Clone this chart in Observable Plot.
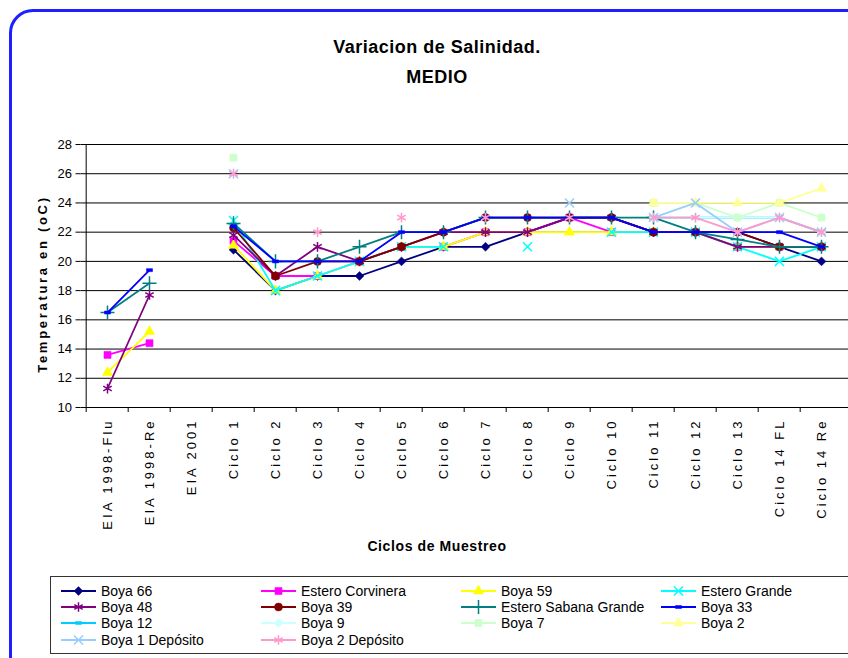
<!DOCTYPE html>
<html>
<head>
<meta charset="utf-8">
<script src="https://cdn.jsdelivr.net/npm/d3@7"></script>
<script src="https://cdn.jsdelivr.net/npm/@observablehq/plot@0.6"></script>
<style>
  body { margin: 0; background: #fff; font-family: "Liberation Sans", Arial, sans-serif; }
  #wrap { position: relative; width: 848px; height: 658px; overflow: hidden; background: #fff; }
  #frame { position: absolute; left: 9px; top: 9px; width: 880px; height: 720px; border: 3px solid #1f1fff; border-radius: 24px; box-sizing: border-box; }
  #title { position: absolute; left: 0; width: 874px; top: 32px; text-align: center; font-weight: bold; font-size: 18px; letter-spacing: 0.5px; line-height: 30px; color: #000; }
  #chart { position: absolute; left: 0; top: 0; }
  #ylabel { position: absolute; left: 42px; top: 284px; transform: translate(-50%, -50%) rotate(-90deg); font-weight: bold; font-size: 13px; letter-spacing: 2.7px; white-space: nowrap; }
  #xlabel { position: absolute; left: 0; width: 874px; top: 538px; text-align: center; font-weight: bold; font-size: 14px; letter-spacing: 0.6px; }
  #legend { position: absolute; left: 50px; top: 576px; width: 830px; height: 78px; border: 1px solid #333; box-sizing: border-box; background: #fff; }
  .li { position: absolute; height: 16px; display: flex; align-items: center; font-size: 14px; white-space: nowrap; }
  .li svg { margin-right: 4px; }
  #chart g[aria-label="x-axis tick label"] { letter-spacing: 3px; }
</style>
</head>
<body>
<div id="wrap">
  <div id="frame"></div>
  <div id="title">Variacion de Salinidad.<br>MEDIO</div>
  <div id="chart"></div>
  <div id="ylabel">Temperatura en (oC)</div>
  <div id="xlabel">Ciclos de Muestreo</div>
  <div id="legend"></div>
</div>
<script>
// ---- data ----
const categories = ["EIA 1998-Flu", "EIA 1998-Re", "EIA 2001", "Ciclo 1", "Ciclo 2", "Ciclo 3", "Ciclo 4", "Ciclo 5", "Ciclo 6", "Ciclo 7", "Ciclo 8", "Ciclo 9", "Ciclo 10", "Ciclo 11", "Ciclo 12", "Ciclo 13", "Ciclo 14 FL", "Ciclo 14 Re"];
const yTicks = [10, 12, 14, 16, 18, 20, 22, 24, 26, 28];

const boya66        = [null, null, null, 20.8, 18, 19, 19, 20, 21, 21, 22, 23, 23, 22, 22, 22, 21, 20];
const esteroCorv    = [13.6, 14.4, null, 21.4, 19, 19, 20, 21, 21, 22, 22, 23, 22, 22, 22, 21, 21, 21];
const boya59        = [12.4, 15.2, null, 21.1, 18, 19, 20, 21, 21, 22, 22, 22, 22, 22, 22, 21, 21, 21];
const esteroGrande  = [null, null, null, 22.8, 18, 19, 20, 21, 21, null, 21, null, 22, 22, 22, 21, 20, 21];
const boya48        = [11.3, 17.7, null, 21.8, 19, 21, 20, 21, 22, 22, 22, 23, 23, 22, 22, 21, 21, 21];
const boya39        = [null, null, null, 22.3, 19, 20, 20, 21, 22, 23, 23, 23, 23, 22, 22, 22, 21, 21];
const esteroSabana  = [16.5, 18.5, null, 22.6, 20, 20, 21, 22, 22, 23, 23, 23, 23, 23, 22, 21.5, 21, 21];
const boya33        = [16.5, 19.4, null, 22.4, 20, 20, 20, 22, 22, 23, 23, 23, 23, 22, 22, 22, 22, 21];
const boya12        = [null, null, null, null, null, null, null, null, null, null, null, null, null, 23, 23, 23, 23, 22];
const boya9         = [null, null, null, null, null, null, null, null, null, null, null, null, null, 23, 23, 23, 23, 22];
const boya7         = [null, null, null, 27.1, null, null, null, null, null, null, null, null, null, 24, 24, 23, 24, 23];
const boya2         = [null, null, null, null, null, null, null, null, null, null, null, null, null, 24, 24, 24, 24, 25];
const boya1Dep      = [null, null, null, 26, null, null, null, null, null, null, null, 24, null, 23, 24, 22, 23, 22];
const boya2Dep      = [null, null, null, 26, null, 22, null, 23, null, 23, null, 23, null, 23, 23, 22, 23, 22];

const seriesNames  = ["Boya 66", "Estero Corvinera", "Boya 59", "Estero Grande", "Boya 48", "Boya 39", "Estero Sabana Grande", "Boya 33", "Boya 12", "Boya 9", "Boya 7", "Boya 2", "Boya 1 Depósito", "Boya 2 Depósito"];
const seriesValues = [boya66, esteroCorv, boya59, esteroGrande, boya48, boya39, esteroSabana, boya33, boya12, boya9, boya7, boya2, boya1Dep, boya2Dep];
const seriesColors = ["#000080", "#FF00FF", "#FFFF00", "#00FFFF", "#800080", "#800000", "#008080", "#0000FF", "#00CCFF", "#CCFFFF", "#CCFFCC", "#FFFF99", "#99CCFF", "#FF99CC"];
const seriesMarker = ["diamond", "square", "triangle", "times", "asterisk", "circle", "plus", "dash", "dash", "diamond", "square", "triangle", "times", "asterisk"];

// ---- symbols ----
const dashSymbol = {
  draw(ctx, size) {
    const w = Math.sqrt(size) * 0.95, h = w * 0.5;
    ctx.moveTo(-w / 2, -h / 2); ctx.lineTo(w / 2, -h / 2); ctx.lineTo(w / 2, h / 2); ctx.lineTo(-w / 2, h / 2); ctx.closePath();
  }
};
const markerDefs = {
  diamond:  {sym: d3.symbolDiamond2, filled: true, r: 4},
  square:   {sym: d3.symbolSquare, filled: true, r: 4},
  triangle: {sym: d3.symbolTriangle, filled: true, r: 3.8},
  times:    {sym: d3.symbolTimes, filled: false, r: 4.2},
  asterisk: {sym: d3.symbolAsterisk, filled: false, r: 4.6},
  circle:   {sym: d3.symbolCircle, filled: true, r: 4},
  plus:     {sym: d3.symbolPlus, filled: false, r: 4.6},
  dash:     {sym: dashSymbol, filled: true, r: 3.6}
};

// ---- chart ----
const W = 848, H = 540, ML = 80.5, MR = 0, MT = 144, MB = 133;
const step = (W - ML - MR) / categories.length;

const marks = [
  Plot.gridY(yTicks.filter(t => t > 10), {stroke: "#000", strokeOpacity: 1, strokeWidth: 1}),
  Plot.ruleY([10], {stroke: "#000", strokeWidth: 1}),
  Plot.ruleX([categories[0]], {x: d => d, dx: -step / 2, y1: 10, y2: 28, stroke: "#000", strokeWidth: 1}),
  Plot.axisY({ticks: yTicks, tickSize: 5, tickPadding: 4, fontSize: 13, label: null}),
  Plot.axisX({ticks: categories, tickSize: 5, tickFormat: () => "", dx: -step / 2, label: null}),
  Plot.axisX({ticks: categories, tickSize: 0, tickPadding: 11, tickRotate: -90, textAnchor: "end", lineAnchor: "middle", fontSize: 13, label: null})
];

seriesNames.forEach((name, si) => {
  const rows = seriesValues[si].map((v, i) => ({cat: categories[i], v}));
  const col = seriesColors[si];
  const m = markerDefs[seriesMarker[si]];
  marks.push(Plot.line(rows, {x: "cat", y: "v", stroke: col, strokeWidth: 1.8}));
  marks.push(Plot.dot(rows.filter(d => d.v != null), {
    x: "cat", y: "v", symbol: m.sym, r: m.r,
    fill: m.filled ? col : "none",
    stroke: col, strokeWidth: m.filled ? 0.5 : 1.5
  }));
});

const chart = Plot.plot({
  width: W, height: H,
  marginLeft: ML, marginRight: MR, marginTop: MT, marginBottom: MB,
  style: {fontFamily: "'Liberation Sans', Arial, sans-serif", fontSize: "13px", color: "#000", background: "transparent", overflow: "visible"},
  x: {type: "point", domain: categories, padding: 0.5},
  y: {domain: [10, 28]},
  marks
});
document.getElementById("chart").appendChild(chart);

// ---- legend ----
const legend = document.getElementById("legend");
const rowTops = [6, 22, 38, 54.5];
seriesNames.forEach((name, si) => {
  const col = si % 4, row = Math.floor(si / 4);
  const item = document.createElement("div");
  item.className = "li";
  item.style.left = (10 + col * 200) + "px";
  item.style.top = rowTops[row] + "px";
  const m = markerDefs[seriesMarker[si]];
  const svg = d3.create("svg").attr("width", 36).attr("height", 14);
  svg.append("line").attr("x1", 0).attr("x2", 35).attr("y1", 7).attr("y2", 7).attr("stroke", seriesColors[si]).attr("stroke-width", 2);
  svg.append("path")
    .attr("transform", "translate(17.5,7)")
    .attr("d", d3.symbol(m.sym, m.r * m.r * Math.PI)())
    .attr("fill", m.filled ? seriesColors[si] : "none")
    .attr("stroke", seriesColors[si])
    .attr("stroke-width", m.filled ? 0.5 : 1.5);
  item.appendChild(svg.node());
  const span = document.createElement("span");
  span.textContent = name;
  item.appendChild(span);
  legend.appendChild(item);
});
</script>
</body>
</html>
